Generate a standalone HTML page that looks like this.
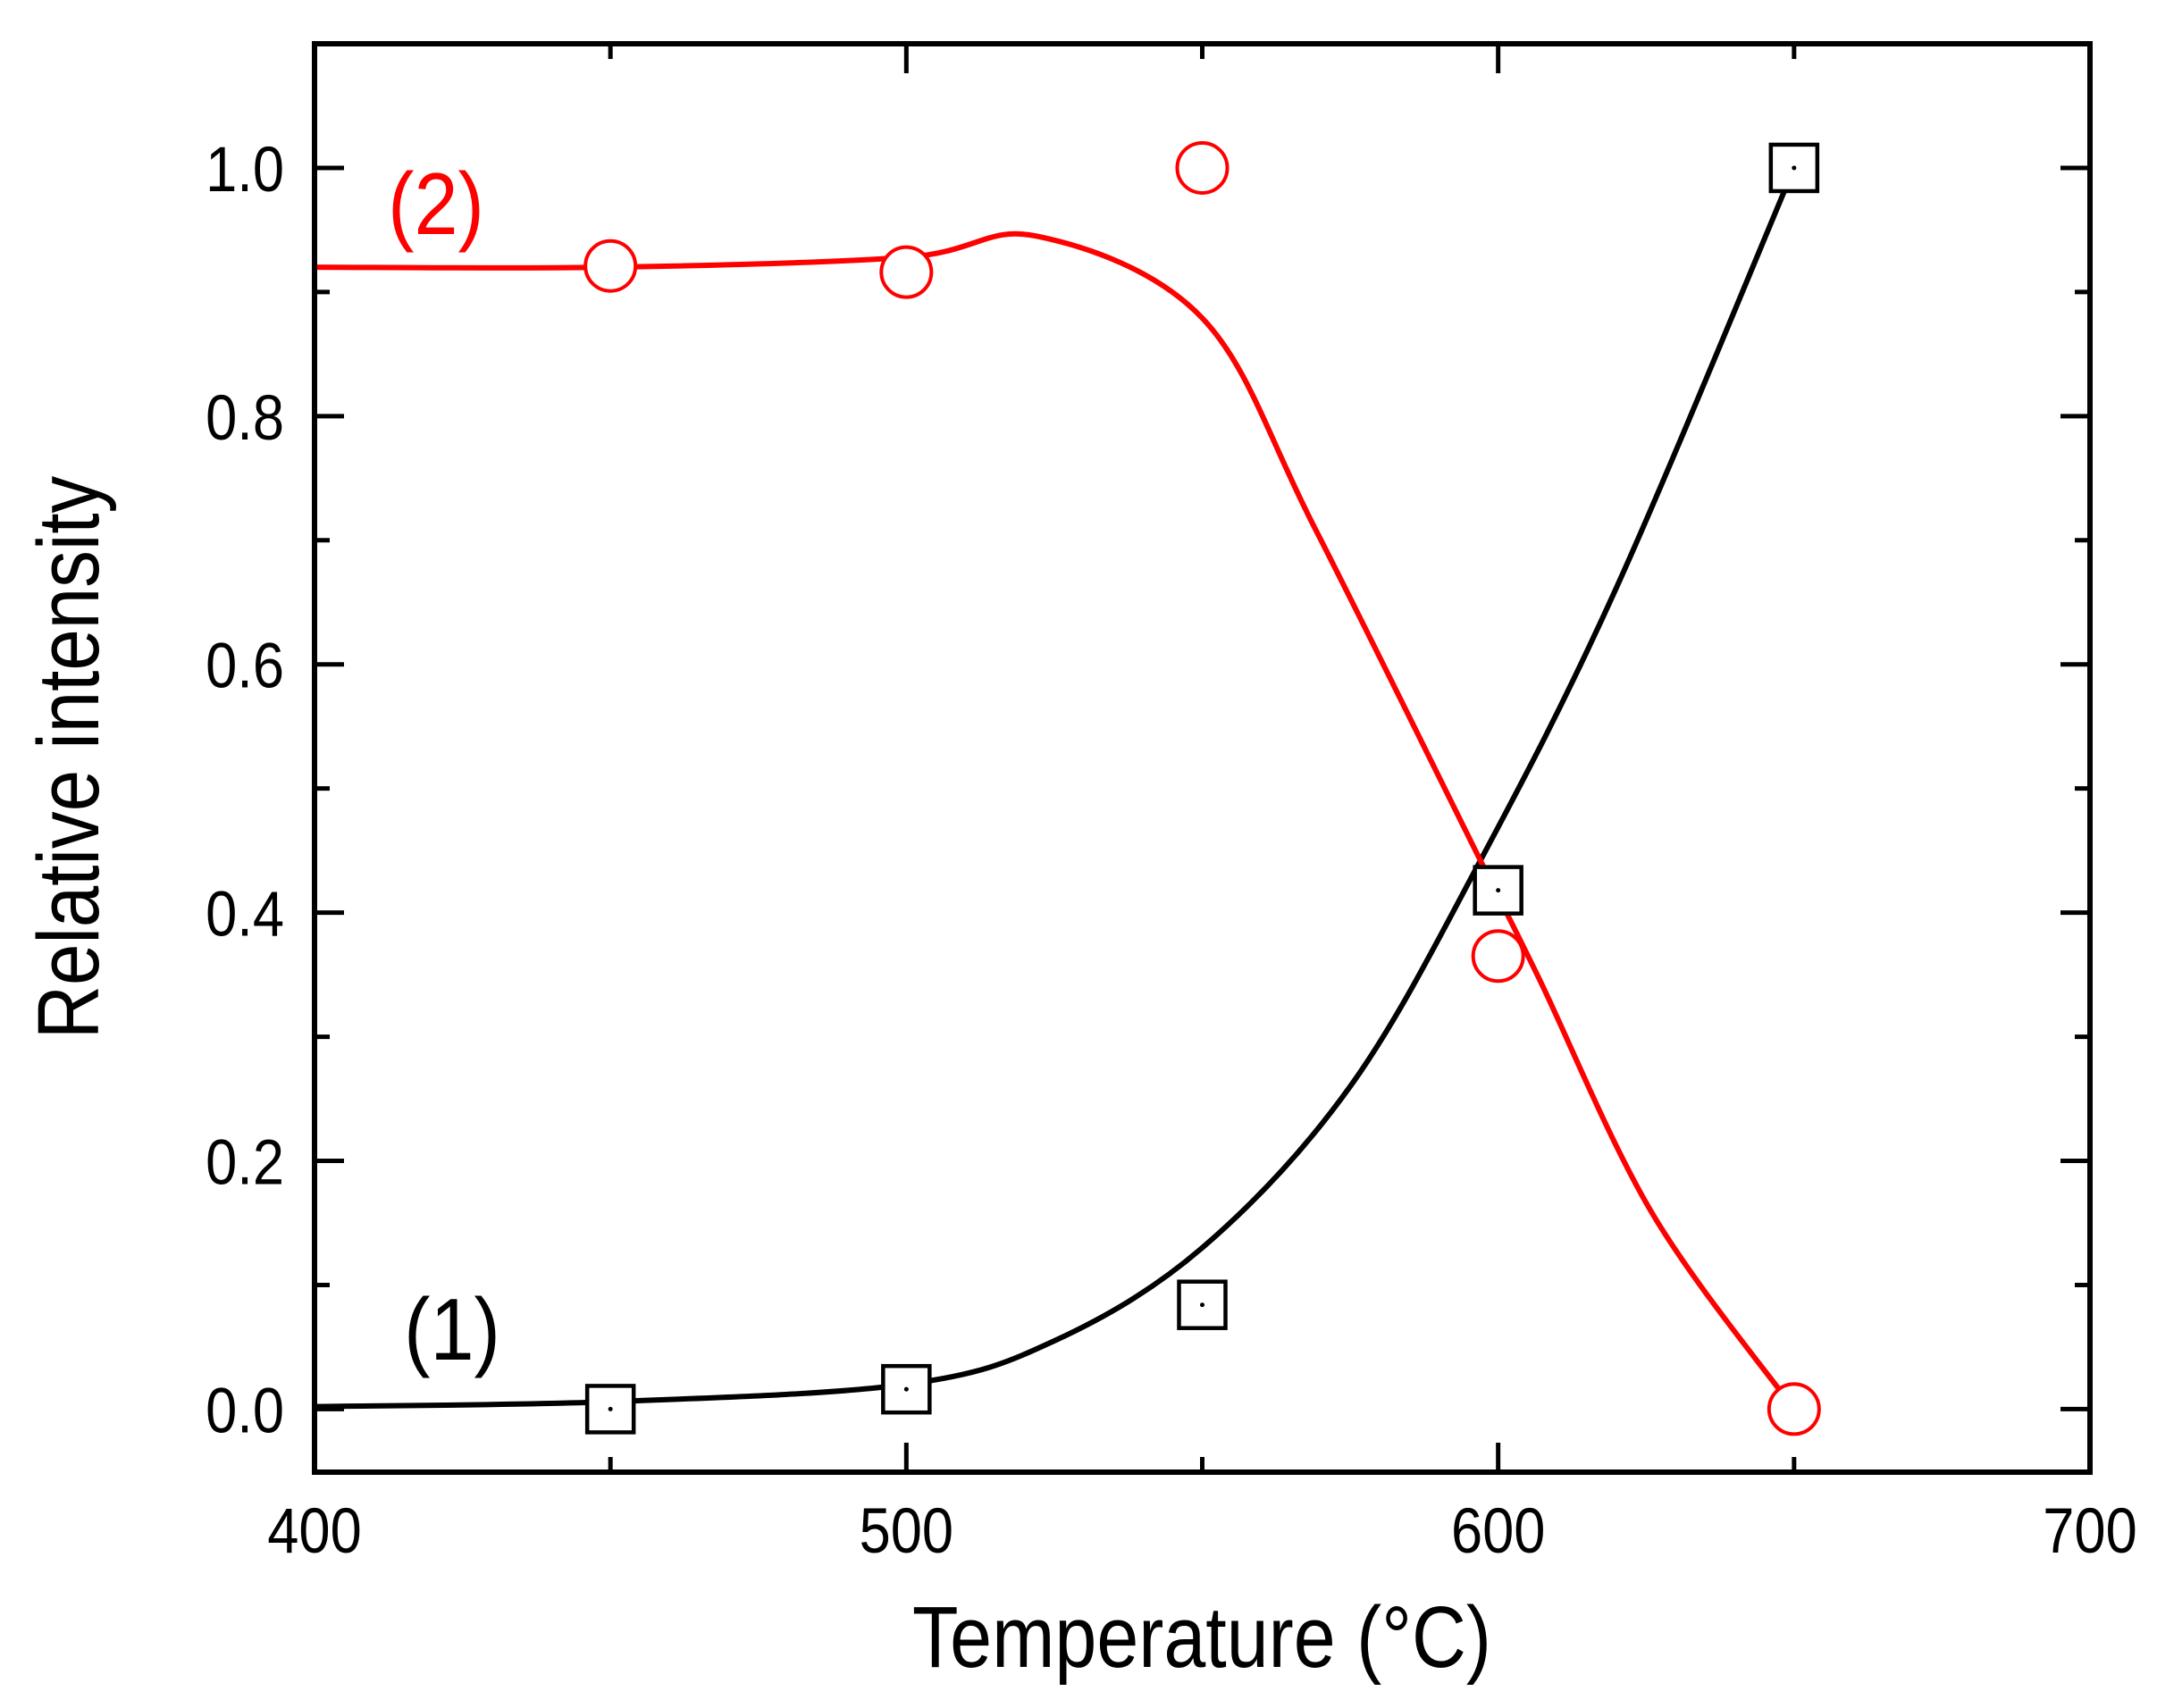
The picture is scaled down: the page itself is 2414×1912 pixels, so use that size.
<!DOCTYPE html>
<html><head><meta charset="utf-8"><style>
html,body{margin:0;padding:0;background:#fff;}
svg{display:block;font-family:"Liberation Sans",Arial,sans-serif;}
</style></head><body>
<svg id="chart" width="2414" height="1912" viewBox="0 0 2414 1912" xmlns="http://www.w3.org/2000/svg">
<g id="curves"></g>
<g id="marks"></g>
<g id="axes"></g>
<text transform="translate(488,262) scale(0.9,1)" font-size="98" fill="#ff0000" text-anchor="middle">(2)</text>
<text transform="translate(506,1522) scale(0.9,1)" font-size="98" fill="#000" text-anchor="middle">(1)</text>
<text transform="translate(1345,1866) scale(0.87,1)" font-size="97" text-anchor="middle">Temperature (°C)</text>
<text transform="translate(110,848) rotate(-90) scale(0.86,1)" font-size="97" text-anchor="middle">Relative intensity</text>
</svg>
<script>
const xs = [450, 500, 550, 600, 650];
const series1 = [0.0, 0.016, 0.084, 0.418, 1.0];
const series2 = [0.921, 0.916, 1.0, 0.365, 0.0];
const fit1X = [400, 450, 500, 525, 550, 575, 597, 620, 650];
const fit1Y = [0.002, 0.006, 0.02, 0.055, 0.13, 0.26, 0.442, 0.662, 1.0];
const fit2X = [400, 450, 500, 522, 550, 569, 597, 607, 626, 650];
const fit2Y = [0.92, 0.92, 0.928, 0.945, 0.879, 0.71, 0.442, 0.346, 0.158, 0.0];
const xTicks = [400, 500, 600, 700];
const yTicks = [0.0, 0.2, 0.4, 0.6, 0.8, 1.0];

const L=352,R=2339,T=49,B=1648,XMIN=400,XMAX=700,YMIN=-0.0508,YMAX=1.1;
const sx=v=>L+(v-XMIN)/(XMAX-XMIN)*(R-L);
const sy=v=>B-(v-YMIN)/(YMAX-YMIN)*(B-T);
const NS="http://www.w3.org/2000/svg";
function mk(tag,attrs,parent){const e=document.createElementNS(NS,tag);for(const k in attrs)e.setAttribute(k,attrs[k]);parent.appendChild(e);return e;}
function smooth(X,Y){const p=X.map((x,i)=>[sx(x),sy(Y[i])]);let d=`M${p[0][0]},${p[0][1]}`;
for(let i=0;i<p.length-1;i++){const p0=p[Math.max(0,i-1)],p1=p[i],p2=p[i+1],p3=p[Math.min(p.length-1,i+2)];
const c1=[p1[0]+(p2[0]-p0[0])/6,p1[1]+(p2[1]-p0[1])/6],c2=[p2[0]-(p3[0]-p1[0])/6,p2[1]-(p3[1]-p1[1])/6];
d+=` C${c1[0]},${c1[1]} ${c2[0]},${c2[1]} ${p2[0]},${p2[1]}`;}return d;}
const cg=document.getElementById('curves');
const c1=mk('path',{d:smooth(fit1X,fit1Y),fill:'none',stroke:'#000','stroke-width':6,'stroke-linejoin':'round'},cg);


const c2=mk('path',{d:smooth(fit2X,fit2Y),fill:'none',stroke:'#ff0000','stroke-width':6,'stroke-linejoin':'round'},cg);


const mg=document.getElementById('marks');
xs.forEach((x,i)=>{
 const s=mk('rect',{x:sx(x)-26,y:sy(series1[i])-26,width:52,height:52,fill:'#fff',stroke:'#000','stroke-width':4.5},mg);
 
 
 mk('circle',{cx:sx(x),cy:sy(series1[i]),r:2.5,fill:'#000'},mg);
 const c=mk('circle',{cx:sx(x),cy:sy(series2[i]),r:28,fill:'#fff',stroke:'#ff0000','stroke-width':4},mg);
 
 
});
const ag=document.getElementById('axes');
const fr=mk('rect',{x:L,y:T,width:R-L,height:B-T,fill:'none',stroke:'#000','stroke-width':6},ag);


for(let v=400;v<=700;v+=50){const maj=v%100===0,len=maj?33:17,x=sx(v);
 mk('line',{x1:x,y1:B,x2:x,y2:B-len,stroke:'#000','stroke-width':5},ag);
 mk('line',{x1:x,y1:T,x2:x,y2:T+len,stroke:'#000','stroke-width':5},ag);}
for(let k=0;k<=11;k++){const v=k/10,maj=k%2===0,len=maj?33:17,y=sy(v);
 mk('line',{x1:L,y1:y,x2:L+len,y2:y,stroke:'#000','stroke-width':5},ag);
 mk('line',{x1:R,y1:y,x2:R-len,y2:y,stroke:'#000','stroke-width':5},ag);}
xTicks.forEach(v=>{const t=mk('text',{transform:`translate(${sx(v)},1738) scale(0.89,1)`,'font-size':71,'text-anchor':'middle'},ag);t.textContent=v;
 
 });
yTicks.forEach(v=>{const t=mk('text',{transform:`translate(318,${sy(v)+26}) scale(0.89,1)`,'font-size':71,'text-anchor':'end'},ag);t.textContent=v.toFixed(1);
 
 });
</script>
</body></html>
